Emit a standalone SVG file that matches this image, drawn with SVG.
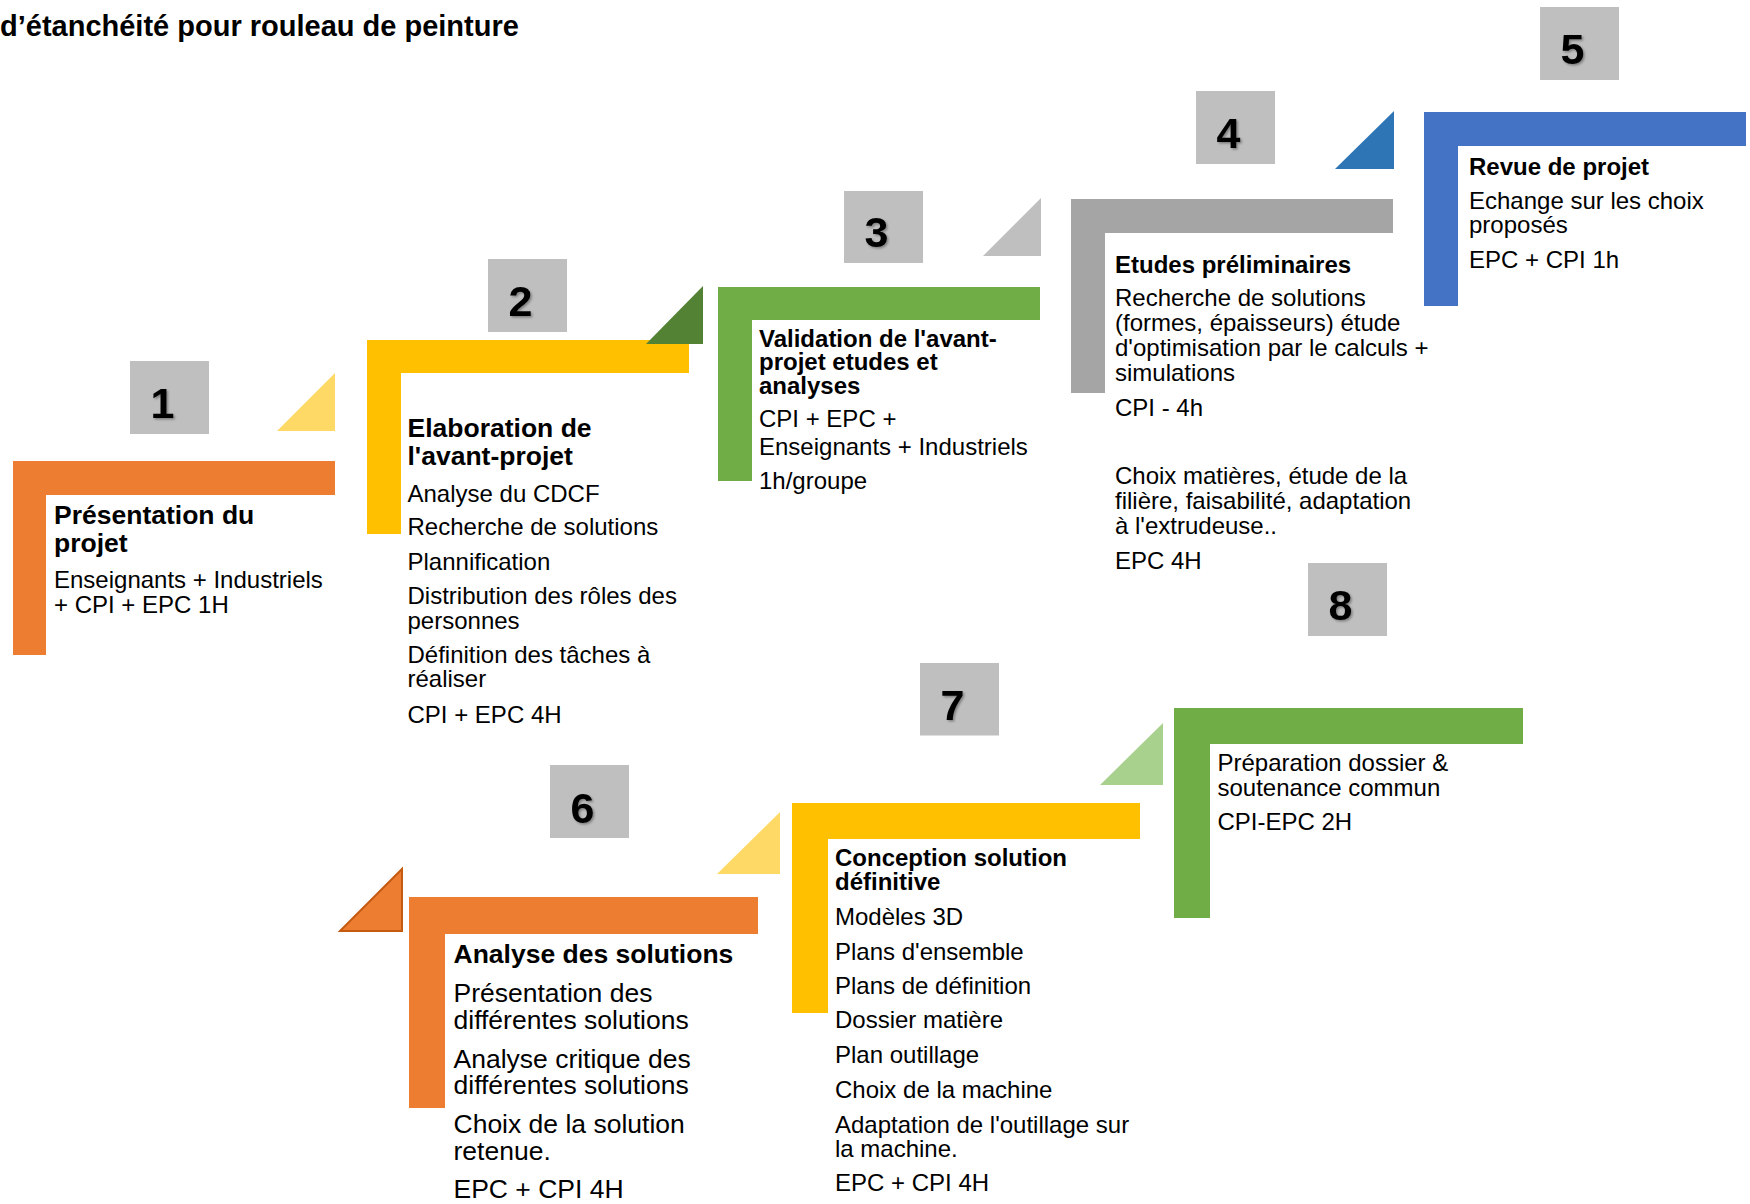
<svg xmlns="http://www.w3.org/2000/svg" width="1750" height="1204" viewBox="0 0 1750 1204">
<defs>
<style>
.t{font-family:"Liberation Sans",Arial,sans-serif;fill:#000}
.b{font-weight:bold;font-size:24px}
.b26{font-weight:bold;font-size:26.5px}
.r{font-size:24px}
.r26{font-size:26.5px}
.nb{fill:#BFBFBF}
.num{font-family:"Liberation Sans",Arial,sans-serif;font-weight:bold;font-size:43px;fill:#000;text-anchor:middle;filter:url(#sh)}
.title{font-family:"Liberation Sans",Arial,sans-serif;font-weight:bold;font-size:29px;fill:#000}
</style>
<filter id="sh" x="-30%" y="-30%" width="160%" height="160%">
<feDropShadow dx="1.5" dy="1.5" stdDeviation="1.2" flood-color="#000" flood-opacity="0.35"/>
</filter>
</defs>
<rect width="1750" height="1204" fill="#fff"/>
<text class="title" x="0" y="36">d’étanchéité pour rouleau de peinture</text>

<g id="connectors">
<polygon points="277,431 335,431 335,373" fill="#FFD966"/>
<polygon points="983,256 1041,256 1041,198" fill="#BFBFBF"/>
<polygon points="1335,169 1394,169 1394,111" fill="#2E75B6"/>
<polygon points="340,931 402,931 402,869" fill="#ED7D31" stroke="#C55A11" stroke-width="2"/>
<polygon points="717,874 780,874 780,812" fill="#FFD966"/>
<polygon points="1100,785 1163,785 1163,723" fill="#A9D18E"/>
</g>

<g id="step1">
<rect class="nb" x="130" y="361" width="79" height="73"/>
<text class="num" x="162.5" y="418">1</text>
<path d="M13 461H335V495H46V655H13Z" fill="#ED7D31"/>
<text class="t b26" x="54" y="524">Présentation du</text>
<text class="t b26" x="54" y="551.5">projet</text>
<text class="t r" x="54" y="587.5">Enseignants + Industriels</text>
<text class="t r" x="54" y="612.5">+ CPI + EPC 1H</text>
</g>

<g id="step2">
<rect class="nb" x="488" y="259" width="79" height="73"/>
<text class="num" x="520.5" y="316">2</text>
<path d="M367 340H689V373H401V534H367Z" fill="#FFC000"/>
<polygon points="646,344 703,344 703,286" fill="#548235"/>
<text class="t b26" x="407.5" y="437">Elaboration de</text>
<text class="t b26" x="407.5" y="465">l'avant-projet</text>
<text class="t r" x="407.5" y="501.5">Analyse du CDCF</text>
<text class="t r" x="407.5" y="535">Recherche de solutions</text>
<text class="t r" x="407.5" y="570">Plannification</text>
<text class="t r" x="407.5" y="603.5">Distribution des rôles des</text>
<text class="t r" x="407.5" y="628.5">personnes</text>
<text class="t r" x="407.5" y="663">Définition des tâches à</text>
<text class="t r" x="407.5" y="687">réaliser</text>
<text class="t r" x="407.5" y="722.5">CPI + EPC 4H</text>
</g>

<g id="step3">
<rect class="nb" x="844" y="191" width="79" height="72"/>
<text class="num" x="876.5" y="247">3</text>
<path d="M718 287H1040V320H752V481H718Z" fill="#70AD47"/>
<text class="t b" x="759" y="346.5">Validation de l'avant-</text>
<text class="t b" x="759" y="370">projet etudes et</text>
<text class="t b" x="759" y="393.5">analyses</text>
<text class="t r" x="759" y="427">CPI + EPC +</text>
<text class="t r" x="759" y="455">Enseignants + Industriels</text>
<text class="t r" x="759" y="488.5">1h/groupe</text>
</g>

<g id="step4">
<rect class="nb" x="1196" y="91" width="79" height="73"/>
<text class="num" x="1228.5" y="148">4</text>
<path d="M1071 199H1393V233H1105V393H1071Z" fill="#A5A5A5"/>
<text class="t b" x="1115" y="272.5">Etudes préliminaires</text>
<text class="t r" x="1115" y="306">Recherche de solutions</text>
<text class="t r" x="1115" y="331">(formes, épaisseurs) étude</text>
<text class="t r" x="1115" y="356">d'optimisation par le calculs +</text>
<text class="t r" x="1115" y="381">simulations</text>
<text class="t r" x="1115" y="416">CPI - 4h</text>
<text class="t r" x="1115" y="484">Choix matières, étude de la</text>
<text class="t r" x="1115" y="508.5">filière, faisabilité, adaptation</text>
<text class="t r" x="1115" y="533.5">à l'extrudeuse..</text>
<text class="t r" x="1115" y="568.5">EPC 4H</text>
</g>

<g id="step5">
<rect class="nb" x="1540" y="7" width="79" height="73"/>
<text class="num" x="1572.5" y="63.5">5</text>
<path d="M1424 112H1746V146H1458V306H1424Z" fill="#4472C4"/>
<text class="t b" x="1469" y="174.5">Revue de projet</text>
<text class="t r" x="1469" y="209">Echange sur les choix</text>
<text class="t r" x="1469" y="233">proposés</text>
<text class="t r" x="1469" y="268">EPC + CPI 1h</text>
</g>

<g id="step6">
<rect class="nb" x="550" y="765" width="79" height="73"/>
<text class="num" x="582.5" y="823">6</text>
<path d="M409 897H758V934H445V1108H409Z" fill="#ED7D31"/>
<text class="t b26" x="453.5" y="962.5">Analyse des solutions</text>
<text class="t r26" x="453.5" y="1001.5">Présentation des</text>
<text class="t r26" x="453.5" y="1028.5">différentes solutions</text>
<text class="t r26" x="453.5" y="1067.5">Analyse critique des</text>
<text class="t r26" x="453.5" y="1094">différentes solutions</text>
<text class="t r26" x="453.5" y="1132.5">Choix de la solution</text>
<text class="t r26" x="453.5" y="1160">retenue.</text>
<text class="t r26" x="453.5" y="1198">EPC + CPI 4H</text>
</g>

<g id="step7">
<rect class="nb" x="920" y="663" width="79" height="72.5"/>
<text class="num" x="952.5" y="719.5">7</text>
<path d="M792 803H1140V839H828V1013H792Z" fill="#FFC000"/>
<text class="t b" x="835" y="865.5">Conception solution</text>
<text class="t b" x="835" y="889.5">définitive</text>
<text class="t r" x="835" y="925">Modèles 3D</text>
<text class="t r" x="835" y="960">Plans d'ensemble</text>
<text class="t r" x="835" y="994">Plans de définition</text>
<text class="t r" x="835" y="1028">Dossier matière</text>
<text class="t r" x="835" y="1062.5">Plan outillage</text>
<text class="t r" x="835" y="1098">Choix de la machine</text>
<text class="t r" x="835" y="1132.5">Adaptation de l'outillage sur</text>
<text class="t r" x="835" y="1157">la machine.</text>
<text class="t r" x="835" y="1191">EPC + CPI 4H</text>
</g>

<g id="step8">
<rect class="nb" x="1308" y="563" width="79" height="73"/>
<text class="num" x="1340.5" y="619.5">8</text>
<path d="M1174 708H1523V744H1210V918H1174Z" fill="#70AD47"/>
<text class="t r" x="1217.5" y="771">Préparation dossier &amp;</text>
<text class="t r" x="1217.5" y="795.5">soutenance commun</text>
<text class="t r" x="1217.5" y="829.5">CPI-EPC 2H</text>
</g>
</svg>
